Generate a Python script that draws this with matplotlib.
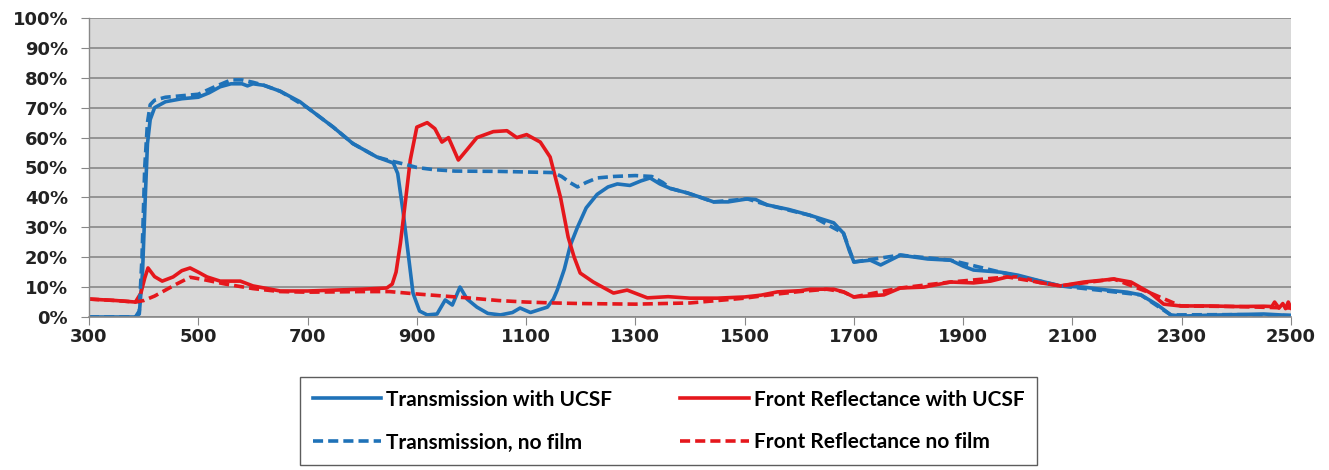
import numpy as np
import matplotlib
matplotlib.use("Agg")
import matplotlib.pyplot as plt
from matplotlib.ticker import FuncFormatter

# wavelength (nm) / percent readings, one pair of lists per series
trans_ucsf_x = [300, 385, 392, 398, 403, 407, 412, 420, 440, 470, 500, 520, 540, 560, 580, 590, 600, 620, 650,
                686, 700, 747, 783, 827, 857, 865, 875, 885, 893, 905, 919, 937, 952, 965, 979, 992, 1010, 1030,
                1053, 1075, 1089, 1108, 1125, 1139, 1150, 1157, 1170, 1181, 1194, 1210, 1230, 1250, 1267, 1290,
                1310, 1327, 1345, 1364, 1395, 1420, 1443, 1470, 1505, 1520, 1541, 1580, 1620, 1663, 1681, 1692,
                1700, 1730, 1749, 1785, 1835, 1877, 1900, 1919, 1968, 2000, 2042, 2078, 2120, 2164, 2200, 2225,
                2256, 2280, 2300, 2350, 2400, 2450, 2480, 2500]
trans_ucsf_y = [0, 0, 1, 15, 40, 58, 66, 70, 72, 73, 73.5, 75, 77, 78, 78, 77.3, 78, 77.5, 75.5,
                72, 70, 63.5, 58, 53.5, 51.5, 48, 35, 20, 8, 2, 0.7, 1, 5.7, 4, 10, 6, 3.3, 1.2,
                0.7, 1.5, 3, 1.5, 2.5, 3.3, 6, 9, 16, 24, 30, 36.5, 41, 43.5, 44.5, 44,
                45.5, 46.5, 44.5, 43, 41.5, 40, 38.5, 38.5, 39.5, 39.3, 37.5, 36, 34, 31.5, 28, 22,
                18.4, 19, 17.4, 20.7, 19.4, 19, 17, 15.7, 15, 14, 12, 10.4, 10, 9, 8.3, 7.4,
                4, 0.7, 0.3, 0.6, 0.8, 1, 0.7, 0.5]

refl_ucsf_x = [300, 350, 385, 395, 402, 408, 420, 434, 454, 470, 485, 500, 516, 540, 560, 577, 600, 650, 700,
               750, 800, 845, 855, 862, 870, 880, 888, 900, 919, 933, 946, 958, 976, 992, 1010, 1040, 1065,
               1083, 1101, 1126, 1144, 1163, 1177, 1188, 1199, 1223, 1240, 1260, 1285, 1322, 1360, 1400, 1450,
               1500, 1530, 1560, 1602, 1620, 1663, 1681, 1700, 1755, 1785, 1828, 1877, 1919, 1950, 1981, 2005,
               2040, 2078, 2121, 2176, 2207, 2243, 2267, 2298, 2350, 2400, 2450, 2465, 2470, 2478, 2485, 2490,
               2495, 2500]
refl_ucsf_y = [6, 5.5, 5, 8, 13, 16.4, 13.5, 12, 13.4, 15.5, 16.4, 15, 13.4, 12, 12, 12, 10.4, 8.7, 8.7,
               9, 9.3, 9.7, 11, 15, 24.7, 40, 52.5, 63.5, 65, 63, 58.5, 60, 52.5, 56, 60, 62, 62.3,
               60, 61, 58.5, 53.5, 40, 26.7, 20, 14.7, 11.7, 10, 8, 9, 6.4, 6.8, 6.3, 6.3,
               6.7, 7.3, 8.4, 8.8, 9.3, 9.3, 8.4, 6.7, 7.4, 9.7, 10, 11.7, 11.4, 12, 13.4, 13.4,
               11.5, 10.4, 11.7, 12.7, 11.7, 8, 4.3, 3.7, 3.7, 3.5, 3.6, 3.5, 5, 3, 4.5, 2.8,
               5, 3]

trans_nofilm_x = [300, 385, 392, 397, 402, 407, 412, 420, 440, 470, 500, 530, 560, 580, 600, 620, 650, 700,
                  747, 783, 827, 857, 880, 900, 930, 970, 1050, 1100, 1150, 1165, 1180, 1194, 1210, 1230, 1260,
                  1300, 1330, 1350, 1364, 1395, 1443, 1505, 1541, 1620, 1681, 1700, 1785, 1877, 1968, 2078,
                  2225, 2280, 2400, 2500]
trans_nofilm_y = [0, 0, 2, 20, 50, 65, 71, 72.5, 73.5, 74, 74.5, 77, 79.3, 79.3, 78.5, 77.5, 75.5, 70,
                  63.5, 58, 53.5, 52, 51, 50, 49.3, 48.8, 48.7, 48.5, 48.3, 47, 45, 43.5, 45, 46.5, 47,
                  47.3, 47, 45, 43, 41.5, 38.5, 39.5, 37.5, 34, 28, 18.4, 20.7, 19, 15, 10.4,
                  7.4, 0.7, 0.8, 0.5]

refl_nofilm_x = [300, 350, 385, 400, 420, 440, 460, 485, 510, 550, 600, 650, 700, 800, 850, 900, 950, 1000,
                 1050, 1100, 1150, 1200, 1300, 1400, 1450, 1500, 1550, 1600, 1650, 1681, 1700, 1785, 1877,
                 1981, 2078, 2176, 2243, 2298, 2400, 2500]
refl_nofilm_y = [6, 5.5, 5, 5.5, 7, 9, 11, 13.3, 12.5, 11, 9.5, 8.5, 8.3, 8.5, 8.5, 7.7, 7, 6.3,
                 5.5, 5, 4.7, 4.5, 4.3, 4.7, 5.5, 6.3, 7.5, 8.5, 9.3, 8.4, 6.7, 9.7, 11.7,
                 13.4, 10.4, 12.7, 8, 3.7, 3.5, 3]

labels = ["Transmission with UCSF", "Front Reflectance with UCSF",
          "Transmission, no film", "Front Reflectance no film"]

blue = "#1f72b8"
red = "#e5171c"
grid_col = "#888888"

fig = plt.figure(figsize=(13.29, 4.70), dpi=100)
ax = fig.add_axes([89 / 1329, 1 - 317 / 470, (1291 - 89) / 1329, (317 - 18) / 470])
ax.set_facecolor("#d9d9d9")

lw = 2.6
l1, = ax.plot(trans_ucsf_x, trans_ucsf_y, color=blue, lw=lw, solid_joinstyle="round")
l2, = ax.plot(refl_ucsf_x, refl_ucsf_y, color=red, lw=lw, solid_joinstyle="round")
l3, = ax.plot(trans_nofilm_x, trans_nofilm_y, color=blue, lw=lw, ls=(0, (2.8, 1.4)))
l4, = ax.plot(refl_nofilm_x, refl_nofilm_y, color=red, lw=lw, ls=(0, (2.8, 1.4)))

ax.set_xlim(300, 2500)
ax.set_ylim(0, 100)
ax.set_xticks(np.arange(300, 2501, 200))
ax.set_yticks(np.arange(0, 101, 10))
ax.yaxis.set_major_formatter(FuncFormatter(lambda v, p: "%d%%" % v))
ax.grid(axis="y", color=grid_col, lw=1.2)
ax.set_axisbelow(True)

for s in ["top", "right"]:
    ax.spines[s].set_visible(False)
ax.spines["left"].set_color(grid_col)
ax.spines["bottom"].set_color(grid_col)
ax.spines["left"].set_linewidth(1.0)
ax.spines["bottom"].set_linewidth(1.2)

ax.tick_params(axis="y", length=6, color=grid_col, pad=9)
ax.tick_params(axis="x", length=6, color=grid_col, pad=2)
for t in ax.get_xticklabels() + ax.get_yticklabels():
    t.set_fontweight("bold")
    t.set_fontsize(13)
    t.set_color("#222222")

leg = fig.legend([l1, l3, l2, l4], [labels[0], labels[2], labels[1], labels[3]],
                 ncol=2, loc="lower left", mode="expand",
                 bbox_to_anchor=(300 / 1329, 5 / 470, 737 / 1329, 87 / 470),
                 frameon=True, fancybox=False, handlelength=3.3, handletextpad=0.25,
                 borderaxespad=0, borderpad=0.6, labelspacing=1.1,
                 prop={"family": ["Lato", "DejaVu Sans"], "weight": "bold", "size": 15})
leg.get_frame().set_edgecolor("#333333")
leg.get_frame().set_linewidth(1.0)

fig.savefig("out.png", dpi=100)
